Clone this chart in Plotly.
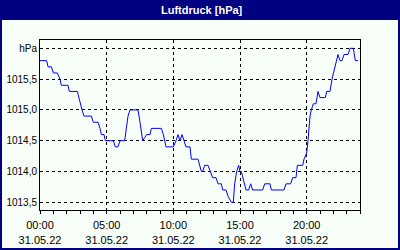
import plotly.graph_objects as go

# --- data ---
times = ["00:00","00:30","00:36","00:48","00:51","01:00","01:18","01:30","01:36","02:06","02:12","02:48",
         "02:54","03:00","03:09","03:18","03:51","04:00","04:21","04:30","04:36","04:48","04:54","05:30",
         "05:39","05:51","06:00","06:21","06:30","06:36","06:45","07:21","07:30","07:42","07:51","08:00",
         "08:15","08:21","09:06","09:15","09:27","10:00","10:12","10:21","10:30","10:39","10:48","10:57",
         "11:15","11:21","11:51","12:06","12:12","12:21","12:36","12:45","12:57","13:12","13:21","13:36",
         "13:42","13:57","14:06","14:21","14:30","14:36","14:45","14:54","15:00","15:06","15:18","15:27",
         "15:39","15:48","15:57","16:42","16:51","17:15","17:21","18:18","18:27","18:48","18:57","19:12",
         "19:18","19:42","19:48","19:57","20:00","20:06","20:15","20:21","20:30","20:42","20:51","21:00",
         "21:24","21:30","21:45","21:54","22:06","22:21","22:30","22:39","22:48","23:06","23:15","23:30",
         "23:39","23:51"]
pressure = [1015.8,1015.8,1015.7,1015.7,1015.7,1015.6,1015.6,1015.5,1015.4,1015.4,1015.3,1015.3,
            1015.2,1015.1,1015.0,1014.9,1014.9,1014.8,1014.8,1014.7,1014.6,1014.6,1014.5,1014.5,
            1014.4,1014.4,1014.5,1014.5,1014.7,1014.9,1015.0,1015.0,1014.8,1014.5,1014.55,1014.6,
            1014.6,1014.7,1014.7,1014.6,1014.4,1014.4,1014.5,1014.6,1014.5,1014.6,1014.5,1014.4,
            1014.4,1014.2,1014.2,1014.0,1014.0,1014.1,1014.1,1014.0,1013.9,1013.9,1013.8,1013.8,
            1013.7,1013.7,1013.6,1013.5,1013.5,1013.8,1014.0,1014.1,1014.0,1014.0,1013.8,1013.7,
            1013.7,1013.8,1013.7,1013.7,1013.8,1013.8,1013.7,1013.7,1013.8,1013.8,1013.9,1013.9,
            1014.1,1014.1,1014.2,1014.3,1014.3,1014.5,1014.9,1015.0,1015.1,1015.1,1015.3,1015.2,
            1015.2,1015.3,1015.3,1015.5,1015.7,1015.9,1015.8,1015.8,1015.9,1015.9,1016.0,1016.0,
            1015.8,1015.8]
x_tick_vals = ["2022-05-31 00:00","2022-05-31 05:00","2022-05-31 10:00","2022-05-31 15:00","2022-05-31 20:00"]
x_tick_text = ["00:00<br>31.05.22","05:00<br>31.05.22","10:00<br>31.05.22","15:00<br>31.05.22","20:00<br>31.05.22"]
y_tick_vals = [1013.5, 1014.0, 1014.5, 1015.0, 1015.5, 1016.0]
y_tick_text = ["1013,5", "1014,0", "1014,5", "1015,0", "1015,5", "hPa"]
title = "Luftdruck [hPa]"

x = ["2022-05-31 " + t for t in times]

W, H = 400, 250
L, R, T, B = 40, 40, 40, 40
pw, ph = W - L - R, H - T - B

def px(X):
    return (X - L) / pw

def py(Y):
    return (H - B - Y) / ph

fig = go.Figure()
fig.add_trace(go.Scatter(x=x, y=pressure, mode="lines",
                         line=dict(color="#0000ff", width=1), hoverinfo="skip"))

fam = "Liberation Sans, Arial, sans-serif"

fig.update_layout(
    width=W, height=H,
    margin=dict(l=L, r=R, t=T, b=B),
    paper_bgcolor="#f8fff8", plot_bgcolor="#f8fff8",
    showlegend=False,
    font=dict(family=fam, size=10, color="black"),
    xaxis=dict(type="date", range=["2022-05-31 00:00", "2022-06-01 00:00"],
               tickmode="array", tickvals=x_tick_vals, ticktext=x_tick_text,
               tickfont=dict(family=fam, size=11, color="black"),
               ticklabelstandoff=2, automargin=False,
               showgrid=True, gridcolor="black", griddash="3px,3px", gridwidth=1,
               showline=True, linecolor="black", linewidth=1, mirror=True,
               ticks="outside", ticklen=3, tickcolor="black",
               minor=dict(dtick=3600000, ticks="outside", ticklen=3, tickcolor="black", showgrid=False),
               zeroline=False, fixedrange=True),
    yaxis=dict(range=[1013.375, 1016.135], tickmode="array",
               tickvals=y_tick_vals, ticktext=y_tick_text,
               tickfont=dict(family=fam, size=10, color="black"),
               automargin=False,
               showgrid=True, gridcolor="black", griddash="3px,3px", gridwidth=1,
               showline=True, linecolor="black", linewidth=1, mirror=True,
               ticks="", zeroline=False, fixedrange=True),
    shapes=[
        dict(type="rect", xref="paper", yref="paper", x0=px(0), x1=px(W), y0=py(20), y1=py(0),
             fillcolor="#000080", line=dict(width=0), layer="above"),
        dict(type="rect", xref="paper", yref="paper", x0=px(1), x1=px(W - 1), y0=py(H - 1), y1=py(1),
             fillcolor="rgba(0,0,0,0)", line=dict(color="#000080", width=2), layer="above"),
    ],
    annotations=[
        dict(text="<b>" + title + "</b>", xref="paper", yref="paper", x=px(202), y=py(10),
             showarrow=False, xanchor="center", yanchor="middle",
             font=dict(family=fam, size=11, color="white")),
    ],
)

fig.write_html("out.html", config={"displayModeBar": False})
